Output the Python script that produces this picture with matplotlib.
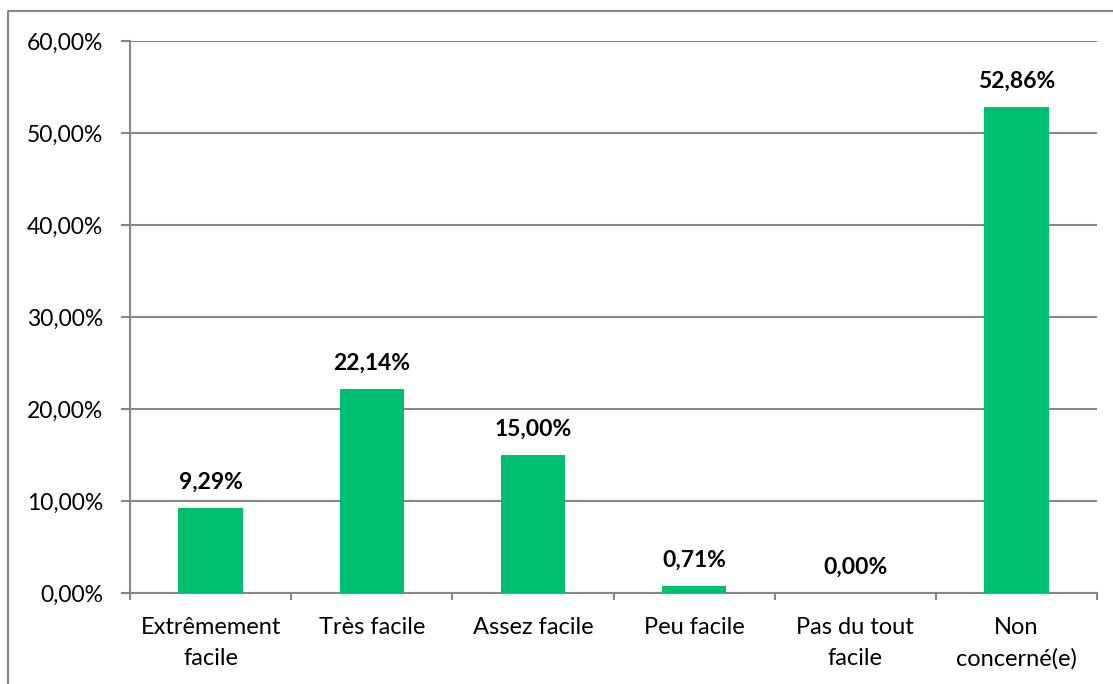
import numpy as np
import matplotlib.pyplot as plt
from matplotlib.lines import Line2D
from matplotlib.ticker import FuncFormatter, MultipleLocator

categories = ["Extrêmement\nfacile", "Très facile", "Assez facile", "Peu facile",
              "Pas du tout\nfacile", "Non\nconcerné(e)"]
values = [9.29, 22.14, 15.00, 0.71, 0.00, 52.86]

green = "#00BF6F"
grey = "#868686"

plt.rcParams['font.family'] = ['Lato', 'DejaVu Sans']

fig = plt.figure(figsize=(11.13, 6.84), dpi=100)
ax = fig.add_axes([130/1113, 1-593/684, (1097-130)/1113, (593-41)/684])

x = np.arange(len(values))
ax.bar(x, values, width=0.4, color=green, zorder=3)
for xi, v in zip(x, values):
    ax.annotate(f"{v:.2f}%".replace(".", ","), (xi, v), xytext=(0, 11),
                textcoords="offset points", ha="center", va="bottom",
                fontsize=16.5, fontweight="bold")

ax.set_xlim(-0.5, len(values) - 0.5)
ax.set_ylim(0, 60)
ax.yaxis.set_major_locator(MultipleLocator(10))
ax.yaxis.set_major_formatter(FuncFormatter(lambda v, p: f"{v:.2f}%".replace(".", ",")))
ax.grid(axis="y", color=grey, linewidth=1.5, zorder=0)

ax.set_xticks(x)
ax.set_xticklabels(categories, fontsize=17, linespacing=1.6)
ax.tick_params(axis="x", length=0, pad=17)
ax.set_xticks(np.arange(-0.5, len(values)), minor=True)
ax.tick_params(axis="x", which="minor", length=5, width=1.5, color=grey, direction="out")
ax.tick_params(axis="y", length=6.5, width=1.5, color=grey, labelsize=16.5, pad=13)

for s in ["top", "right"]:
    ax.spines[s].set_visible(False)
for s in ["left", "bottom"]:
    ax.spines[s].set_color(grey)
    ax.spines[s].set_linewidth(1.5)

# outer chart frame (cropped)
bx, by = 8/1113, 1-11/684
fig.add_artist(Line2D([bx, bx, 1], [0, by, by], transform=fig.transFigure,
                      color=grey, linewidth=1.5))

fig.savefig("out.png", dpi=100)
